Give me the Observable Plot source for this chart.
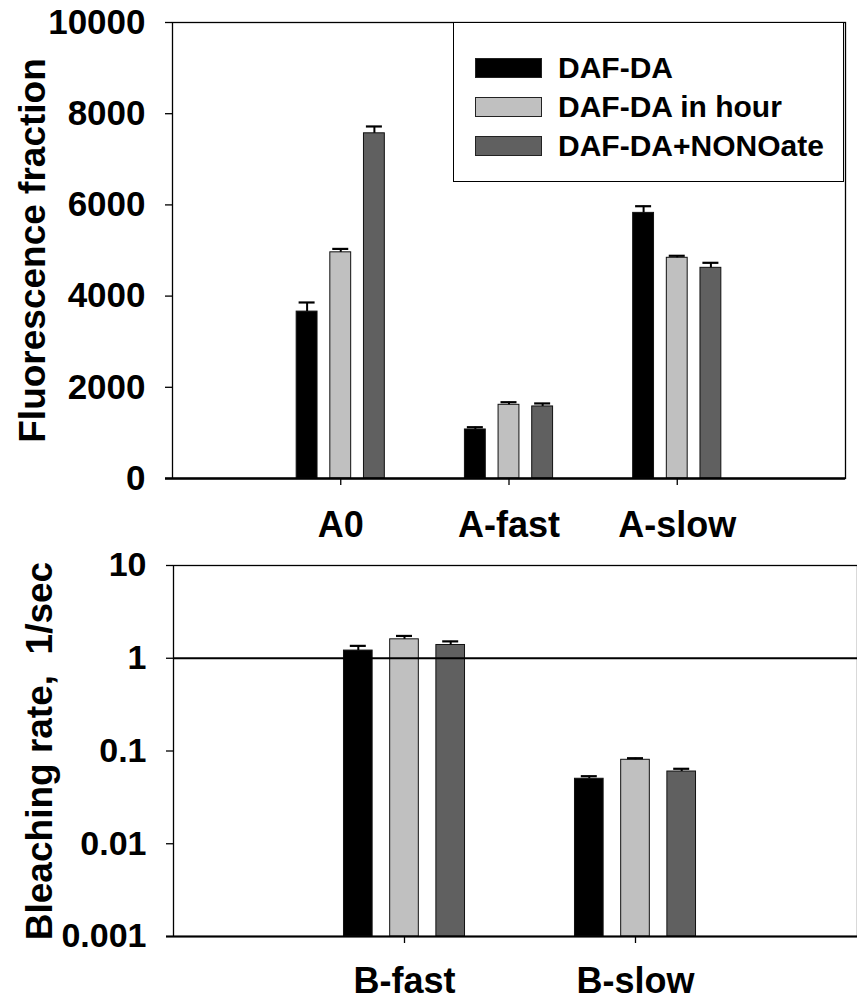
<!DOCTYPE html>
<html>
<head>
<meta charset="utf-8">
<script src="https://cdn.jsdelivr.net/npm/d3@7"></script>
<script src="https://cdn.jsdelivr.net/npm/@observablehq/plot@0.6"></script>
<style>
  html, body { margin: 0; padding: 0; background: #fff; overflow: hidden; }
  #wrap { position: relative; width: 857px; height: 1000px; overflow: hidden; font-family: "Liberation Sans", Arial, sans-serif; }
  #topPanel, #bottomPanel { position: relative; }
  #legend { position: absolute; left: 453px; top: 22px; width: 391px; height: 160px; border: 1px solid #000; background: #fff; box-sizing: border-box; }
  .lg-row { position: absolute; left: 21px; height: 20px; display: flex; align-items: center; }
  .lg-sw { width: 67px; height: 20px; box-sizing: border-box; border: 1px solid #222; }
  .lg-tx { margin-left: 16px; font-size: 30px; font-weight: bold; white-space: nowrap; line-height: 20px; }
</style>
</head>
<body>
<div id="wrap">
  <div id="topPanel"></div>
  <div id="bottomPanel"></div>
  <div id="legend"></div>
</div>
<script>
// ---- data ----
const seriesNames = ["DAF-DA", "DAF-DA in hour", "DAF-DA+NONOate"];
const seriesColors = ["#000000", "#c0c0c0", "#606060"];

const fluorCategories = ["A0", "A-fast", "A-slow"];
const fluorDafDa      = [3660, 1075, 5825];
const fluorDafDaErr   = [200, 50, 146];
const fluorInHour     = [4960, 1616, 4840];
const fluorInHourErr  = [75, 57, 44];
const fluorNonoate    = [7570, 1580, 4620];
const fluorNonoateErr = [150, 66, 110];
const fluorTicks = [0, 2000, 4000, 6000, 8000, 10000];

const bleachCategories = ["B-fast", "B-slow"];
const bleachDafDa      = [1.21, 0.0502];
const bleachDafDaErr   = [0.15, 0.0033];
const bleachInHour     = [1.60, 0.0804];
const bleachInHourErr  = [0.14, 0.0032];
const bleachNonoate    = [1.39, 0.0601];
const bleachNonoateErr = [0.13, 0.0042];
const bleachTicks = [0.001, 0.01, 0.1, 1, 10];
const bleachTickLabels = ["0.001", "0.01", "0.1", "1", "10"];

const fluorLabel = "Fluorescence fraction";
const bleachLabel = "Bleaching rate,  1/sec";

// ---- build tables ----
function makeRows(categories, values, errors) {
  return categories.flatMap((cat, i) => seriesNames.map((s, j) => ({
    cat, ci: i + 1, sj: j, series: s, value: values[j][i], err: errors[j][i]
  })));
}
const fluorRows = makeRows(fluorCategories, [fluorDafDa, fluorInHour, fluorNonoate], [fluorDafDaErr, fluorInHourErr, fluorNonoateErr]);
const bleachRows = makeRows(bleachCategories, [bleachDafDa, bleachInHour, bleachNonoate], [bleachDafDaErr, bleachInHourErr, bleachNonoateErr]);

const GROUP_STEP = 0.2, BAR_HALF = 0.062;
const pos = d => d.ci + (d.sj - 1) * GROUP_STEP;
const FONT = "'Liberation Sans', Arial, sans-serif";

function barMarks(data, base) {
  return [
    Plot.rect(data, {x1: d => pos(d) - BAR_HALF, x2: d => pos(d) + BAR_HALF, y1: () => base, y2: "value", fill: "series", stroke: "#111", strokeWidth: 1}),
    Plot.ruleX(data, {x: pos, y1: "value", y2: d => d.value + d.err, stroke: "#000", strokeWidth: 2}),
    Plot.ruleY(data, {y: d => d.value + d.err, x1: pos, x2: pos, insetLeft: -8, insetRight: -8, stroke: "#000", strokeWidth: 2.2})
  ];
}

// ---- top panel ----
const topChart = Plot.plot({
  width: 857, height: 550,
  marginLeft: 172, marginRight: 12, marginTop: 22, marginBottom: 72,
  style: {fontFamily: FONT, fontWeight: "bold", background: "transparent", overflow: "visible", color: "black"},
  x: {type: "linear", domain: [0, fluorCategories.length + 1]},
  y: {domain: [0, 10000]},
  color: {domain: seriesNames, range: seriesColors},
  marks: [
    Plot.frame({stroke: "#000", strokeWidth: 1.3}),
    ...barMarks(fluorRows, 0),
    Plot.ruleY([0], {stroke: "#000", strokeWidth: 2.5, insetLeft: -7}),
    Plot.axisY({ticks: fluorTicks, tickFormat: d => String(d), tickSize: 7, tickPadding: 20, fontSize: 35, fontWeight: "bold", strokeWidth: 1.3, label: null}),
    Plot.axisX({ticks: fluorCategories.map((c, i) => i + 1), tickFormat: d => fluorCategories[d - 1], tickSize: 7, tickPadding: 26, fontSize: 36, fontWeight: "bold", strokeWidth: 1.3, label: null}),
    Plot.text([fluorLabel], {text: d => d, frameAnchor: "left", rotate: -90, textAnchor: "middle", lineAnchor: "top", dx: -154, fontSize: 37, fontWeight: "bold"})
  ]
});
document.getElementById("topPanel").append(topChart);

// ---- bottom panel ----
const bottomChart = Plot.plot({
  width: 857, height: 450,
  marginLeft: 173, marginRight: 0, marginTop: 15, marginBottom: 64,
  style: {fontFamily: FONT, fontWeight: "bold", background: "transparent", overflow: "visible", color: "black"},
  x: {type: "linear", domain: [0, bleachCategories.length + 1], range: [173, 866]},
  y: {type: "log", domain: [0.001, 10]},
  color: {domain: seriesNames, range: seriesColors},
  marks: [
    Plot.frame({stroke: "#000", strokeWidth: 1.3}),
    ...barMarks(bleachRows, 0.001),
    Plot.ruleY([1], {stroke: "#000", strokeWidth: 2}),
    Plot.ruleY([0.001], {stroke: "#000", strokeWidth: 2, insetLeft: -7}),
    Plot.axisY({ticks: bleachTicks, tickFormat: d => bleachTickLabels[bleachTicks.indexOf(d)], tickSize: 7, tickPadding: 20, fontSize: 34, fontWeight: "bold", strokeWidth: 1.3, label: null}),
    Plot.axisX({ticks: bleachCategories.map((c, i) => i + 1), tickFormat: d => bleachCategories[d - 1], tickSize: 7, tickPadding: 24, fontSize: 36, fontWeight: "bold", strokeWidth: 1.3, label: null}),
    Plot.text([bleachLabel], {text: d => d, frameAnchor: "left", rotate: -90, textAnchor: "middle", lineAnchor: "top", dx: -148, fontSize: 37, fontWeight: "bold"})
  ]
});
document.getElementById("bottomPanel").append(bottomChart);

// ---- legend ----
const legendBox = document.getElementById("legend");
const rowTops = [35, 74, 113];
seriesNames.forEach((name, j) => {
  const row = document.createElement("div");
  row.className = "lg-row";
  row.style.top = rowTops[j] + "px";
  const sw = document.createElement("div");
  sw.className = "lg-sw";
  sw.style.background = seriesColors[j];
  const tx = document.createElement("div");
  tx.className = "lg-tx";
  tx.textContent = name;
  row.append(sw, tx);
  legendBox.append(row);
});
</script>
</body>
</html>
